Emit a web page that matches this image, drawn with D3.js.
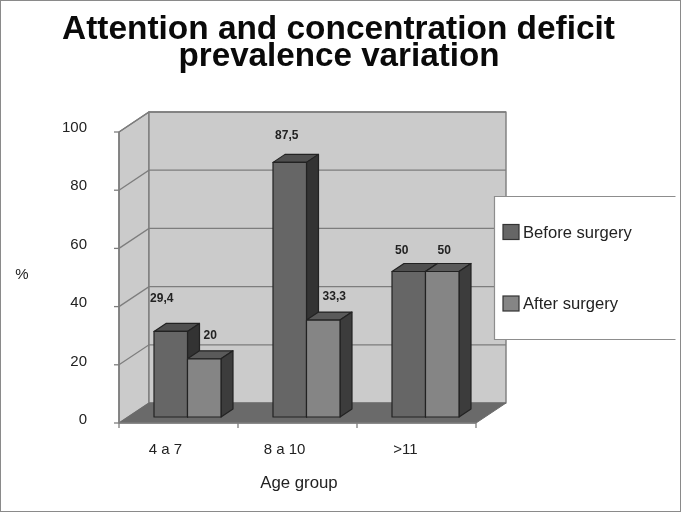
<!DOCTYPE html>
<html><head><meta charset="utf-8">
<script src="https://cdn.jsdelivr.net/npm/d3@7"></script>
<style>html,body{margin:0;padding:0;background:#fff}svg{display:block;filter:blur(0.4px)}text{font-family:"Liberation Sans",Arial,sans-serif}</style>
</head><body><svg id="c" width="681" height="512"></svg>
<script>
const categories = ["4 a 7", "8 a 10", ">11"];
const seriesNames = ["Before surgery", "After surgery"];
const before = [29.4, 87.5, 50];
const after = [20, 33.3, 50];
const labelsBefore = ["29,4", "87,5", "50"];
const labelsAfter = ["20", "33,3", "50"];
const yTicks = [0, 20, 40, 60, 80, 100];
const titleLines = ["Attention and concentration deficit", "prevalence variation"];

const svg = d3.select("#c");
svg.append("rect").attr("x",0.5).attr("y",0.5).attr("width",680).attr("height",511).attr("fill","#fff").attr("stroke","#8a8a8a");

const x = d3.scaleBand().domain(categories).range([119,476]);
const y = d3.scaleLinear().domain([0,100]).range([423,132]);
const sub = d3.scaleBand().domain(seriesNames).range([0,67]);
const wallD = {x:30,y:-20}, barD = {x:12,y:-8}, barO = {x:9,y:-6};
const grid="#7d7d7d";
const poly=(pts,fill,stroke,sw)=>svg.append("polygon").attr("points",pts.map(p=>p.join(",")).join(" ")).attr("fill",fill).attr("stroke",stroke).attr("stroke-width",sw||1.2).attr("stroke-linejoin","round");

const [x0,x1]=x.range();
poly([[x0,y(0)],[x0+wallD.x,y(0)+wallD.y],[x0+wallD.x,y(100)+wallD.y],[x0,y(100)]],"#cbcbcb",grid,1.4);
poly([[x0+wallD.x,y(0)+wallD.y],[x1+wallD.x,y(0)+wallD.y],[x1+wallD.x,y(100)+wallD.y],[x0+wallD.x,y(100)+wallD.y]],"#cbcbcb",grid,1.4);
poly([[x0,y(0)],[x1,y(0)],[x1+wallD.x,y(0)+wallD.y],[x0+wallD.x,y(0)+wallD.y]],"#6a6a6a","#6a6a6a",1);

yTicks.forEach(t=>{
  if(t>0){
    svg.append("polyline").attr("fill","none").attr("stroke",grid).attr("stroke-width",1.3)
      .attr("points",`${x0},${y(t)} ${x0+wallD.x},${y(t)+wallD.y} ${x1+wallD.x},${y(t)+wallD.y}`);
  }
  svg.append("line").attr("x1",x0-5).attr("x2",x0).attr("y1",y(t)).attr("y2",y(t)).attr("stroke",grid).attr("stroke-width",1.3);
  svg.append("text").attr("x",x0-32).attr("y",y(t)+1+(t/100)*-1).attr("text-anchor","end").attr("font-size",15).attr("fill","#222").text(t);
});
svg.append("line").attr("x1",x0).attr("x2",x0).attr("y1",y(0)).attr("y2",y(100)).attr("stroke",grid).attr("stroke-width",1.5);
svg.append("line").attr("x1",x0).attr("x2",x1).attr("y1",y(0)).attr("y2",y(0)).attr("stroke",grid).attr("stroke-width",1.5);
[...categories.map(c=>x(c)),x1].forEach(v=>svg.append("line").attr("x1",v).attr("x2",v).attr("y1",y(0)).attr("y2",y(0)+5).attr("stroke",grid).attr("stroke-width",1.3));
categories.forEach((c,i)=>svg.append("text").attr("x",x(c)+x.bandwidth()/2-13+(i===2?2:0)).attr("y",454).attr("text-anchor","middle").attr("font-size",15).attr("fill","#222").text(c));

const colors={[seriesNames[0]]:{f:"#666666",t:"#4f4f4f",s:"#333333"},[seriesNames[1]]:{f:"#858585",t:"#5a5a5a",s:"#3c3c3c"}};
function bar(cat,name,v,lab,dx,dy){
  const c=colors[name];
  const l=x(cat)+(x.bandwidth()-67)/2+barO.x+sub(name), r=l+sub.bandwidth();
  const b=y(0)+barO.y, t=y(v)+barO.y;
  poly([[l,t],[l+barD.x,t+barD.y],[r+barD.x,t+barD.y],[r,t]],c.t,"#222");
  poly([[r,t],[r+barD.x,t+barD.y],[r+barD.x,b+barD.y],[r,b]],c.s,"#222");
  poly([[l,t],[r,t],[r,b],[l,b]],c.f,"#222");
  svg.append("text").attr("x",(l+r)/2+dx).attr("y",t+dy).attr("text-anchor","middle").attr("font-size",12).attr("font-weight","bold").attr("fill","#222").text(lab);
}
const beforeOff=[[-9,-29],[-3,-23],[-7,-18]], afterOff=[[6,-20],[11,-20],[2,-18]];
categories.forEach((c,i)=>{
  bar(c,seriesNames[0],before[i],labelsBefore[i],beforeOff[i][0],beforeOff[i][1]);
  bar(c,seriesNames[1],after[i],labelsAfter[i],afterOff[i][0],afterOff[i][1]);
});

svg.append("rect").attr("x",494).attr("y",196).attr("width",181.5).attr("height",143.5).attr("fill","#fff");
svg.append("polyline").attr("fill","none").attr("stroke","#8d8d8d").attr("stroke-width",1.2).attr("points","675.5,196.5 494.5,196.5 494.5,339.5 675.5,339.5");
[[seriesNames[0],224.5,238],[seriesNames[1],296,309]].forEach(([n,ry,by])=>{
  svg.append("rect").attr("x",503).attr("y",ry).attr("width",16).attr("height",15).attr("fill",colors[n].f).attr("stroke","#333").attr("stroke-width",1.2);
  svg.append("text").attr("x",523).attr("y",by).attr("font-size",16.6).attr("fill","#222").text(n);
});

svg.append("text").attr("x",338.5).attr("y",38.5).attr("text-anchor","middle").attr("font-size",33.4).attr("font-weight","bold").attr("fill","#0a0a0a").text(titleLines[0]);
svg.append("text").attr("x",339).attr("y",66).attr("text-anchor","middle").attr("font-size",33.2).attr("font-weight","bold").attr("fill","#0a0a0a").text(titleLines[1]);
svg.append("text").attr("x",22).attr("y",279).attr("text-anchor","middle").attr("font-size",15).attr("fill","#222").text("%");
svg.append("text").attr("x",299).attr("y",488).attr("text-anchor","middle").attr("font-size",16.8).attr("fill","#222").text("Age group");
</script></body></html>
